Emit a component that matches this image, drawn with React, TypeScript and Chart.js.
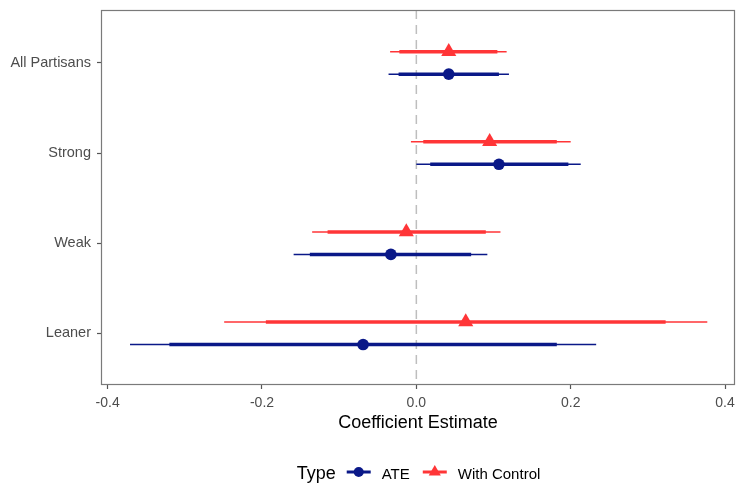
import React, { useEffect, useRef } from 'react';
import { Chart, registerables } from 'chart.js';

Chart.register(...registerables);

// ---- Data ----
const categories = ['All Partisans', 'Strong', 'Weak', 'Leaner'];
const categoryPos = [4, 3, 2, 1];
const seriesNames = ['ATE', 'With Control'];
const xTicks = [-0.4, -0.2, 0.0, 0.2, 0.4];

const ateEst = [0.042, 0.107, -0.033, -0.069];
const ateLo90 = [-0.023, 0.018, -0.138, -0.320];
const ateHi90 = [0.107, 0.197, 0.071, 0.182];
const ateLo95 = [-0.036, 0.0, -0.159, -0.371];
const ateHi95 = [0.120, 0.213, 0.092, 0.233];

const ctrlEst = [0.042, 0.095, -0.013, 0.064];
const ctrlLo90 = [-0.022, 0.009, -0.115, -0.195];
const ctrlHi90 = [0.105, 0.182, 0.090, 0.323];
const ctrlLo95 = [-0.034, -0.007, -0.135, -0.249];
const ctrlHi95 = [0.117, 0.200, 0.109, 0.377];

const BLUE = '#0A1888';
const RED = '#FF3537';
const FONT = '"Liberation Sans", Arial, Helvetica, sans-serif';
const DODGE = 0.125;

const zeroPadding = (scale: any) => {
  scale.paddingLeft = 0;
  scale.paddingRight = 0;
  scale.paddingTop = 0;
  scale.paddingBottom = 0;
};

const customPlugin = {
  id: 'coefPlot',
  beforeDatasetsDraw(chart: any) {
    const { ctx, chartArea, scales } = chart;
    const x = scales.x;
    const y = scales.y;
    ctx.save();
    // zero reference line
    const x0 = x.getPixelForValue(0);
    ctx.strokeStyle = '#BEBEBE';
    ctx.lineWidth = 1.5;
    ctx.setLineDash([9, 6]);
    ctx.beginPath();
    ctx.moveTo(x0, chartArea.top);
    ctx.lineTo(x0, chartArea.bottom);
    ctx.stroke();
    ctx.setLineDash([]);
    // interval bars (thin = wide interval, thick = narrow interval)
    ctx.lineCap = 'butt';
    chart.data.datasets.forEach((ds: any) => {
      const iv = ds.intervals;
      ds.data.forEach((pt: any, i: number) => {
        const py = y.getPixelForValue(pt.y);
        ctx.strokeStyle = ds.backgroundColor;
        ctx.lineWidth = 1.5;
        ctx.beginPath();
        ctx.moveTo(x.getPixelForValue(iv.lo95[i]), py);
        ctx.lineTo(x.getPixelForValue(iv.hi95[i]), py);
        ctx.stroke();
        ctx.lineWidth = 3.5;
        ctx.beginPath();
        ctx.moveTo(x.getPixelForValue(iv.lo90[i]), py);
        ctx.lineTo(x.getPixelForValue(iv.hi90[i]), py);
        ctx.stroke();
      });
    });
    ctx.restore();
  },
  afterDraw(chart: any) {
    const { ctx, chartArea, scales } = chart;
    const x = scales.x;
    ctx.save();
    // panel border
    ctx.strokeStyle = '#7A7A7A';
    ctx.lineWidth = 1.2;
    ctx.strokeRect(
      chartArea.left + 0.5,
      chartArea.top + 0.5,
      chartArea.right - chartArea.left - 1,
      chartArea.bottom - chartArea.top - 1
    );
    // x tick labels
    ctx.fillStyle = '#4D4D4D';
    ctx.font = `14px ${FONT}`;
    ctx.textAlign = 'center';
    ctx.textBaseline = 'alphabetic';
    xTicks.forEach((v) => {
      ctx.fillText(v.toFixed(1), x.getPixelForValue(v), chartArea.bottom + 22);
    });
    // axis title
    const cx = (chartArea.left + chartArea.right) / 2;
    ctx.fillStyle = '#000';
    ctx.font = `18px ${FONT}`;
    ctx.fillText('Coefficient Estimate', cx, chartArea.bottom + 43);

    // legend
    const base = chartArea.bottom + 94;
    const keyY = base - 7;
    ctx.textAlign = 'left';
    ctx.font = `18px ${FONT}`;
    const typeW = ctx.measureText('Type').width;
    ctx.font = `15px ${FONT}`;
    const w1 = ctx.measureText(seriesNames[0]).width;
    const w2 = ctx.measureText(seriesNames[1]).width;
    const keyW = 24;
    const total = typeW + 11 + keyW + 11 + w1 + 13 + keyW + 12 + w2;
    let lx = cx + 1 - total / 2;
    ctx.font = `18px ${FONT}`;
    ctx.fillText('Type', lx, base);
    lx += typeW + 11;
    const keys = [
      { color: BLUE, shape: 'circle', label: seriesNames[0], w: w1, gap: 13 },
      { color: RED, shape: 'triangle', label: seriesNames[1], w: w2, gap: 0 },
    ];
    keys.forEach((k) => {
      ctx.strokeStyle = k.color;
      ctx.fillStyle = k.color;
      ctx.lineWidth = 3;
      ctx.beginPath();
      ctx.moveTo(lx, keyY);
      ctx.lineTo(lx + keyW, keyY);
      ctx.stroke();
      const mx = lx + keyW / 2;
      ctx.beginPath();
      if (k.shape === 'circle') {
        ctx.arc(mx, keyY, 5, 0, Math.PI * 2);
      } else {
        const r = 7;
        ctx.moveTo(mx, keyY - r);
        ctx.lineTo(mx + r * 0.866, keyY + r * 0.5);
        ctx.lineTo(mx - r * 0.866, keyY + r * 0.5);
        ctx.closePath();
      }
      ctx.fill();
      lx += keyW + 11;
      ctx.fillStyle = '#000';
      ctx.font = `15px ${FONT}`;
      ctx.fillText(k.label, lx, base);
      lx += k.w + k.gap;
    });
    ctx.restore();
  },
};

export default function App() {
  const canvasRef = useRef<HTMLCanvasElement | null>(null);

  useEffect(() => {
    if (!canvasRef.current) return;
    const chart = new Chart(canvasRef.current, {
      type: 'scatter',
      data: {
        datasets: [
          {
            label: seriesNames[1],
            data: categoryPos.map((p, i) => ({ x: ctrlEst[i], y: p + DODGE })),
            intervals: { lo90: ctrlLo90, hi90: ctrlHi90, lo95: ctrlLo95, hi95: ctrlHi95 },
            pointStyle: 'triangle',
            pointRadius: 8.7,
            pointHoverRadius: 8.7,
            backgroundColor: RED,
            borderColor: RED,
            borderWidth: 0,
          } as any,
          {
            label: seriesNames[0],
            data: categoryPos.map((p, i) => ({ x: ateEst[i], y: p - DODGE })),
            intervals: { lo90: ateLo90, hi90: ateHi90, lo95: ateLo95, hi95: ateHi95 },
            pointStyle: 'circle',
            pointRadius: 5.8,
            pointHoverRadius: 5.8,
            backgroundColor: BLUE,
            borderColor: BLUE,
            borderWidth: 0,
          } as any,
        ],
      },
      options: {
        animation: false,
        responsive: false,
        events: [],
        layout: { autoPadding: false, padding: { left: 0, top: 10, right: 2, bottom: 48 } },
        plugins: { legend: { display: false }, tooltip: { enabled: false } },
        scales: {
          x: {
            type: 'linear',
            min: -0.4086,
            max: 0.4129,
            afterBuildTicks: (scale: any) => {
              scale.ticks = xTicks.map((v) => ({ value: v }));
            },
            afterFit: (scale: any) => {
              scale.height = 50;
              zeroPadding(scale);
            },
            ticks: { display: false },
            grid: {
              display: true,
              drawOnChartArea: false,
              drawTicks: true,
              tickLength: 4,
              tickColor: '#555',
              tickWidth: 1.2,
            },
            border: { display: false },
          },
          y: {
            type: 'linear',
            min: 0.426,
            max: 4.587,
            afterBuildTicks: (scale: any) => {
              scale.ticks = categoryPos.map((v) => ({ value: v }));
            },
            afterFit: (scale: any) => {
              scale.width = 101;
              zeroPadding(scale);
            },
            ticks: {
              callback: (v: any) => {
                const idx = categoryPos.indexOf(Number(v));
                return idx >= 0 ? categories[idx] : '';
              },
              color: '#4D4D4D',
              font: { family: FONT, size: 14.5 },
              padding: 6,
            },
            grid: {
              display: true,
              drawOnChartArea: false,
              drawTicks: true,
              tickLength: 4,
              tickColor: '#555',
              tickWidth: 1.2,
            },
            border: { display: false },
          },
        },
      },
      plugins: [customPlugin],
    });
    return () => chart.destroy();
  }, []);

  return (
    <div style={{ position: 'absolute', left: 0, top: 0, width: 737, height: 483, background: '#fff' }}>
      <canvas ref={canvasRef} width={737} height={483} style={{ display: 'block' }} />
    </div>
  );
}
